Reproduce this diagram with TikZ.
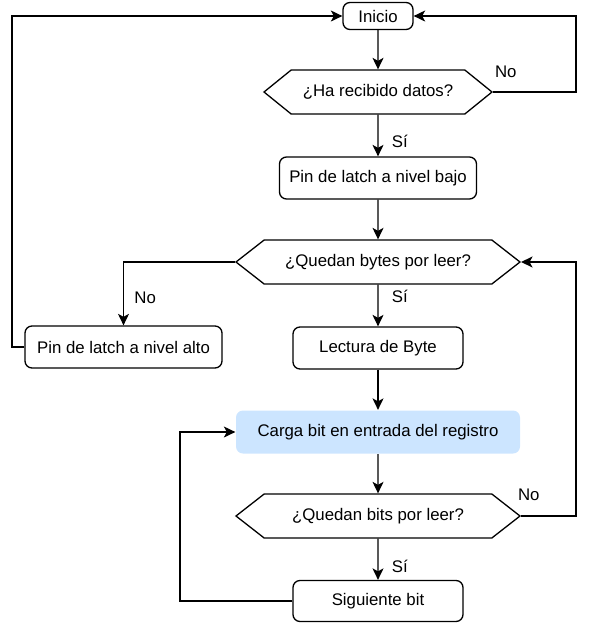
\documentclass[tikz,border=0pt]{standalone}
\usepackage{fontspec}
\setmainfont{Liberation Sans}
\usetikzlibrary{shapes.symbols,arrows.meta}
\definecolor{myLightBlue}{RGB}{204, 229, 255}

\begin{document}
\begin{tikzpicture}[x=1pt, y=-1pt, line width=1.3pt,
		font=\fontsize{16.8}{20}\selectfont,
		box/.style={draw, rounded corners=7pt, minimum height=42pt},
		decision/.style={draw, shape=signal, signal to=west and east, signal pointer angle=78, minimum height=44pt},
		>={Stealth[length=11.5pt, width=11pt, inset=3pt]}]
			\useasboundingbox (0,0) rectangle (589,625);
			\draw (378,16) node[box, minimum width=70pt, minimum height=27pt] (inicio) {Inicio};
			\draw (378,92) node[decision, minimum width=228pt] (recibido) {¿Ha recibido datos?};
			\draw (378,178) node[box, minimum width=197pt] (bajo) {Pin de latch a nivel bajo};
			\draw (378,262) node[decision, minimum width=284pt, signal pointer angle=76] (bytes) {¿Quedan bytes por leer?};
			\draw (123.5,347) node[box, minimum width=197pt] (alto) {Pin de latch a nivel alto};
			\draw (378,348) node[box, minimum width=170pt] (lectura) {Lectura de Byte};
			\draw (378,432) node[box, draw=none, fill=myLightBlue, minimum width=284pt, minimum height=43pt] (carga) {Carga bit en entrada del registro};
			\draw (378,516) node[decision, minimum width=284pt, signal pointer angle=76] (bits) {¿Quedan bits por leer?};
			\draw (378,601) node[box, minimum width=170pt, minimum height=41pt] (siguiente) {Siguiente bit};

			\path[->]
			(inicio) edge (recibido)
			(recibido) edge node[right, pos=0.64, xshift=10pt] {Sí} (bajo)
			(bajo) edge (bytes)
			(bytes) edge node[right, pos=0.29, xshift=10pt] {Sí} (lectura)
			(lectura) edge (carga)
			(carga) edge (bits)
			(bits) edge node[right, pos=0.67, xshift=10pt] {Sí} (siguiente)
			;

			% lazos de vuelta
			\draw[->] (recibido.east) node[above right, xshift=-2pt, yshift=10.7pt] {No} -- (576,92) |- (inicio.east);
			\draw[->] (bytes.west) -| node[right, pos=0.78, xshift=7pt] {No} (alto.north);
			\draw[->] (alto.west) -- (12,347) |- (inicio.west);
			\draw[->] (bits.east) node[above right, xshift=-7pt, yshift=11.3pt] {No} -- (576,516) |- (bytes.east);
			\draw[->] (siguiente.west) -- (180,601) |- (carga.west);
		\end{tikzpicture}
\end{document}
